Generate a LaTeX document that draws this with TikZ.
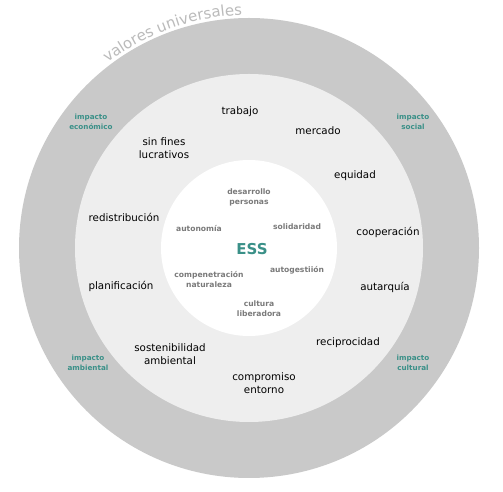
\documentclass[tikz,border=0pt]{standalone}
\usepackage{fontspec}
\setmainfont{DejaVu Sans}
\usetikzlibrary{decorations.text}
\definecolor{ringgray}{HTML}{C9C9C9}
\definecolor{midgray}{HTML}{EEEEEE}
\definecolor{teal}{HTML}{3A9088}
\definecolor{innergray}{HTML}{7A7A7A}
\definecolor{arcgray}{HTML}{BBBBBB}
\tikzset{
  val/.style={font=\fontsize{10.3}{13}\selectfont, text=black, align=center, inner sep=0pt},
  inval/.style={font=\bfseries\fontsize{7.6}{10}\selectfont, text=innergray, align=center, inner sep=0pt},
  impact/.style={font=\bfseries\fontsize{7.2}{10}\selectfont, text=teal, align=center, inner sep=0pt},
}
\begin{document}
\begin{tikzpicture}[x=1pt,y=1pt]
\useasboundingbox (0,0) rectangle (503,492);
\fill[white] (0,0) rectangle (503,492);
\coordinate (c) at (249,244);
\fill[ringgray] (c) circle[radius=230];
\fill[midgray] (c) circle[radius=174];
\fill[white] (c) circle[radius=88];
\path[decorate, decoration={text along path, text align=center,
  text={|\fontsize{15}{15}\selectfont\color{arcgray}|valores universales}}]
  (c) ++(132:233) arc[start angle=132, end angle=87, radius=233];
% middle ring values
\node[val] (trabajo) at (240,380) {trabajo};
\node[val] (mercado) at (318,361) {mercado};
\node[val] (sinfines) at (164,344) {sin fines\\lucrativos};
\node[val] (equidad) at (355,316) {equidad};
\node[val] (redis) at (124,275) {redistribución};
\node[val] (coop) at (388,260) {cooperación};
\node[val] (plan) at (121,206) {planificación};
\node[val] (autar) at (385,205) {autarquía};
\node[val] (recip) at (348,149) {reciprocidad};
\node[val] (sost) at (170,138) {sostenibilidad\\ambiental};
\node[val] (comp) at (264,109) {compromiso\\entorno};
% inner values
\node[inval] (desa) at (249,295) {desarrollo\\personas};
\node[inval] (auton) at (199,263) {autonomía};
\node[inval] (solid) at (297,265) {solidaridad};
\node[font=\bfseries\fontsize{15}{15}\selectfont, text=teal, inner sep=0pt] (ess) at (252,243) {ESS};
\node[inval] (autog) at (297,222) {autogestiión};
\node[inval] (compe) at (209,212) {compenetración\\naturaleza};
\node[inval] (cult) at (259,183) {cultura\\liberadora};
% impacts
\node[impact] (ieco) at (91,370) {impacto\\económico};
\node[impact] (isoc) at (413,370) {impacto\\social};
\node[impact] (iamb) at (88,129) {impacto\\ambiental};
\node[impact] (icul) at (413,129) {impacto\\cultural};
\end{tikzpicture}
\end{document}
